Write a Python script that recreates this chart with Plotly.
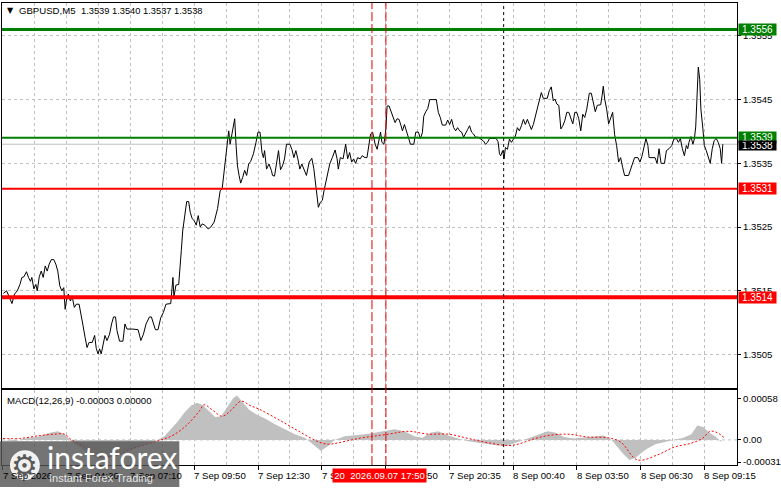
import plotly.graph_objects as go

W, H = 781, 489

# ---------------- data ----------------
price_bar = [0.2,1.8,3.2,4.5,5.8,7.2,8.5,9.5,10.5,11.8,12.8,13.8,14.5,15.5,16.5,17.2,18.2,19.2,20.2,21.2,22.2,23.2,24.3,25.5,26.5,27.5,28.5,29.5,30.5,31.2,31.8,32.8,33.8,34.8,35.8,36.8,38.2,39.2,40.2,41.2,42.2,43.2,44.8,46.0,46.8,47.7,48.5,49.3,50.2,51.2,52.2,53.5,54.5,55.5,56.5,57.2,58.5,60.2,61.2,62.2,65.2,67.8,69.2,70.5,71.8,73.5,74.5,75.5,76.5,77.8,79.2,80.5,81.8,84.2,84.8,85.3,85.8,86.8,88.2,88.8,89.5,90.2,91.2,92.2,93.2,
             94.0,95.0,96.0,97.0,98.0,99.0,100.0,101.3,103.0,104.3,106.0,107.7,109.0,110.0,111.3,112.3,113.3,114.0,114.8,115.7,116.3,117.0,117.7,118.5,119.3,120.3,121.3,122.3,123.3,124.3,125.7,127.0,128.0,129.0,130.0,130.7,131.3,132.3,133.5,134.7,135.3,136.3,137.3,138.3,139.3,140.3,141.3,142.3,144.0,145.0,146.0,147.0,148.0,149.0,150.0,151.0,152.3,153.7,155.0,156.0,156.7,157.7,158.3,159.3,160.3,161.0,162.0,163.0,164.0,165.3,166.7,167.7,168.3,169.3,170.7,172.0,173.0,174.0,175.0,176.0,177.0,178.0,179.3,180.3,181.7,182.7,183.7,
             184.5,185.5,186.2,186.8,187.8,188.5,189.5,190.2,191.2,192.2,192.8,193.8,194.8,195.8,196.8,197.8,198.8,199.8,200.5,201.5,202.8,203.5,204.5,206.2,207.2,208.5,209.5,210.5,211.2,212.2,213.2,214.2,217.5,218.5,219.5,220.5,222.2,223.2,224.2,225.2,226.2,227.2,228.2,229.2,230.2,231.2,232.2,233.2,234.2,235.2,236.2,237.2,238.5,239.8,241.2,242.2,243.2,244.2,247.5,248.5,249.2,249.8,250.8,251.5,252.2,253.2,254.2,255.2,256.2,257.2,258.2,259.2,260.2,261.2,262.2,263.2,264.2,265.2,266.2,267.2,268.2,269.2,270.2,271.2,273.2,274.2,275.2,276.2,
             277.0,278.0,279.0,280.0,281.0,282.0,283.0,284.0,285.0,286.0,287.0,288.0,289.0,290.0,291.0,292.0,293.0,293.7,294.3,295.3,296.3,297.3,298.3,300.0,300.7,301.3,302.0,303.0,304.0,305.0,306.0,307.0,308.0,309.0,310.0,311.0,312.0,314.0,315.0,316.0,317.0,318.7,319.7,320.7,321.7,322.7,323.7,324.3,327.3,328.3,329.3,330.3,332.0,333.0,334.3,335.7,336.7,338.0,339.0,340.0,341.0,342.0,343.0,343.7,344.3,345.3,346.3,347.0,347.7,348.3,349.0,349.7,350.3,351.3,352.0,353.0,354.0,355.0,356.0,357.0,358.0,359.0,360.0,360.7,361.3]
price_close = [1.35146,1.35150,1.35140,1.35130,1.35145,1.35150,1.35160,1.35171,1.35172,1.35180,1.35171,1.35165,1.35171,1.35153,1.35160,1.35150,1.35172,1.35181,1.35171,1.35189,1.35181,1.35192,1.35199,1.35199,1.35192,1.35181,1.35158,1.35150,1.35155,1.35121,1.35134,1.35145,1.35134,1.35140,1.35124,1.35129,1.35129,1.35114,1.35095,1.35077,1.35061,1.35069,1.35069,1.35080,1.35060,1.35051,1.35059,1.35051,1.35067,1.35080,1.35072,1.35082,1.35098,1.35109,1.35109,1.35088,1.35071,1.35071,1.35098,1.35090,1.35090,1.35089,1.35072,1.35082,1.35098,1.35109,1.35109,1.35098,1.35089,1.35089,1.35108,1.35116,1.35129,1.35130,1.35160,1.35171,1.35140,1.35159,1.35160,1.35181,1.35213,1.35244,1.35265,1.35290,1.35290,
               1.35273,1.35263,1.35260,1.35253,1.35268,1.35250,1.35255,1.35253,1.35247,1.35250,1.35258,1.35279,1.35307,1.35310,1.35349,1.35380,1.35401,1.35380,1.35396,1.35411,1.35420,1.35378,1.35346,1.35331,1.35319,1.35328,1.35339,1.35331,1.35349,1.35353,1.35365,1.35383,1.35399,1.35399,1.35367,1.35359,1.35370,1.35341,1.35349,1.35339,1.35331,1.35330,1.35354,1.35370,1.35340,1.35346,1.35357,1.35380,1.35380,1.35372,1.35359,1.35370,1.35357,1.35341,1.35349,1.35342,1.35331,1.35352,1.35358,1.35342,1.35326,1.35302,1.35281,1.35289,1.35292,1.35305,1.35320,1.35336,1.35349,1.35359,1.35371,1.35357,1.35341,1.35359,1.35357,1.35380,1.35357,1.35367,1.35352,1.35357,1.35350,1.35359,1.35357,1.35362,1.35359,1.35359,1.35378,
               1.35396,1.35399,1.35388,1.35380,1.35372,1.35383,1.35399,1.35383,1.35380,1.35404,1.35440,1.35440,1.35432,1.35424,1.35414,1.35420,1.35419,1.35409,1.35401,1.35411,1.35399,1.35391,1.35380,1.35380,1.35399,1.35399,1.35389,1.35398,1.35424,1.35431,1.35436,1.35450,1.35450,1.35430,1.35422,1.35410,1.35410,1.35418,1.35411,1.35419,1.35406,1.35401,1.35406,1.35401,1.35399,1.35391,1.35398,1.35403,1.35409,1.35399,1.35396,1.35391,1.35391,1.35388,1.35385,1.35380,1.35383,1.35389,1.35389,1.35384,1.35365,1.35362,1.35370,1.35357,1.35375,1.35372,1.35388,1.35383,1.35389,1.35393,1.35406,1.35401,1.35409,1.35419,1.35411,1.35419,1.35411,1.35403,1.35411,1.35424,1.35435,1.35451,1.35461,1.35452,1.35452,1.35464,1.35470,1.35448,
               1.35451,1.35443,1.35441,1.35404,1.35409,1.35417,1.35430,1.35430,1.35422,1.35412,1.35430,1.35430,1.35420,1.35401,1.35427,1.35422,1.35435,1.35446,1.35460,1.35460,1.35443,1.35431,1.35441,1.35442,1.35456,1.35471,1.35451,1.35435,1.35412,1.35422,1.35430,1.35395,1.35378,1.35352,1.35359,1.35344,1.35331,1.35331,1.35341,1.35352,1.35359,1.35359,1.35352,1.35361,1.35373,1.35389,1.35378,1.35359,1.35359,1.35350,1.35373,1.35350,1.35350,1.35370,1.35373,1.35378,1.35388,1.35389,1.35383,1.35389,1.35373,1.35362,1.35378,1.35373,1.35383,1.35392,1.35380,1.35388,1.35407,1.35451,1.35501,1.35482,1.35435,1.35404,1.35378,1.35370,1.35359,1.35350,1.35373,1.35386,1.35389,1.35383,1.35373,1.35350,1.35380]

hist_bar = [0,6,11,18.5,23.5,27.5,31,34.5,38.5,43.5,48.5,53.5,58.5,63.5,68.5,73.5,77.5,81,84.5,87.5,91,94.5,97.5,100.5,103.5,106.5,109.5,112.5,115.5,117.5,120.5,123.5,127.5,131.5,136.5,141.5,146.5,151.5,156.5,159.5,162.5,166.5,171.5,176.5,181.5,186.5,191.5,196.5,201.5,206.5,210.5,214.5,218.5,223.5,228.5,233.5,238.5,243.5,248.5,253.5,258.5,263.5,268.5,273.5,277.5,281.5,286.5,291.5,296.5,301.5,305.5,308.5,311.5,314.5,317.5,320.5,323.5,327.5,331.5,336.5,341.5,345.5,348.5,351.5,354.5,357.5,360.5]
hist_val = [0.0,-0.00002,0.00002,0.00005,0.00010,0.00012,0.00008,-0.00003,-0.00010,-0.00020,-0.00027,-0.00025,-0.00020,-0.00015,-0.00010,-0.00005,0.0,0.00005,0.00015,0.00025,0.00038,0.00048,0.00052,0.00048,0.00040,0.00032,0.00033,0.00045,0.00058,0.00062,0.00052,0.00042,0.00035,0.00030,0.00022,0.00015,0.00008,0.00003,-0.00008,-0.00015,-0.00010,0.0,0.00005,0.00006,0.00008,0.00010,0.00012,0.00015,0.00012,0.00005,0.00003,0.00010,0.00012,0.00006,0.00002,-0.00002,-0.00004,-0.00006,-0.00008,-0.00008,-0.00003,0.00003,0.00008,0.00012,0.00010,0.00004,0.00002,0.00003,0.00005,0.00006,0.0,-0.00010,-0.00020,-0.00028,-0.00025,-0.00018,-0.00012,-0.00006,-0.00003,0.0,0.00003,0.00008,0.00020,0.00018,0.00010,0.00005,-0.00003]

signal_bar = [0,8.5,18.5,26,31,33.5,41,47,55,65,77,85,92,98.5,101,105,110,114,119.5,124,128.5,138.5,148.5,158.5,163.5,168.5,178.5,193.5,203.5,213.5,223.5,233.5,243.5,253.5,258.5,266,273.5,283.5,293.5,303.5,310,318.5,328.5,337,345,351,355,358.5,362]
signal_val = [0.00002,0.00002,0.00006,0.00008,0.00008,0.00002,-0.00010,-0.00022,-0.00023,-0.00012,-0.00002,0.00006,0.00020,0.00040,0.00049,0.00042,0.00033,0.00040,0.00054,0.00048,0.00043,0.00028,0.00012,-0.00003,-0.00006,-0.00004,0.00002,0.00008,0.00012,0.00008,0.00008,0.00002,-0.00004,-0.00008,-0.00006,0.00001,0.00006,0.00008,0.00004,0.00003,-0.00003,-0.00028,-0.00021,-0.00010,-0.00005,0.00002,0.00012,0.00010,0.00003]

time_tick_bars = [0, 32, 64, 96, 128, 160, 192, 224, 256, 288, 320, 352]
time_tick_labels = ["7 Sep 2026", "7 Sep 04:20", "7 Sep 07:10", "7 Sep 09:50", "7 Sep 12:30",
                    "7 Sep 15:10", "7 Sep 17:50", "7 Sep 20:35", "8 Sep 00:40", "8 Sep 03:50",
                    "8 Sep 06:30", "8 Sep 09:15"]
price_ticks = [1.3505, 1.3515, 1.3525, 1.3535, 1.3545, 1.3555]
macd_ticks = [0.00058, 0.0, -0.00031]
macd_tick_labels = ["0.00058", "0.00", "-0.00031"]

levels = [1.3556, 1.3539, 1.3531, 1.3514]
level_colors = ["#008000", "#008000", "#ff0000", "#ff0000"]
level_widths = [3, 2, 2, 4]
bid_price = 1.3538
cursor_bars = [185.2, 192.2]
cursor_label = "20  2026.09.07 17:50"
separator_bar = 251.3
title_symbol = "GBPUSD,M5"
title_ohlc = "1.3539 1.3540 1.3537 1.3538"
macd_title = "MACD(12,26,9) -0.00003 0.00000"

# ---------------- layout helpers ----------------
def px_x(p):
    return p / W

def px_y(p):
    return 1 - p / H

FONT = "Liberation Sans, Arial, sans-serif"
FS = 9.6
GRID = "#c0c0c0"
x_range = [-0.5, 368.5]
xdom = [px_x(2), px_x(740)]
main_dom = [px_y(390), px_y(3)]
macd_dom = [px_y(467), px_y(392)]

fig = go.Figure()

fig.add_trace(go.Scatter(x=hist_bar, y=hist_val, mode="lines", line=dict(width=0, color="#c0c0c0"),
                         fill="tozeroy", fillcolor="#c0c0c0", xaxis="x2", yaxis="y2",
                         showlegend=False, hoverinfo="skip"))
fig.add_trace(go.Scatter(x=signal_bar, y=signal_val, mode="lines",
                         line=dict(width=1, color="#ff0000", dash="2px,2px", shape="spline"),
                         xaxis="x2", yaxis="y2", showlegend=False))
fig.add_trace(go.Scatter(x=price_bar, y=price_close, mode="lines",
                         line=dict(width=1, color="#000000"), showlegend=False))

shapes = []
shapes.append(dict(type="line", xref="x", yref="y", x0=x_range[0], x1=x_range[1], y0=bid_price, y1=bid_price,
                   line=dict(color="#c0c0c0", width=1), layer="below"))
for lv, c, w in zip(levels, level_colors, level_widths):
    shapes.append(dict(type="line", xref="x", yref="y", x0=x_range[0], x1=x_range[1], y0=lv, y1=lv,
                       line=dict(color=c, width=w)))
for cb in cursor_bars:
    shapes.append(dict(type="line", xref="x", yref="paper", x0=cb, x1=cb, y0=macd_dom[0], y1=main_dom[1],
                       line=dict(color="#e00000", width=1, dash="9px,3px")))
shapes.append(dict(type="line", xref="x", yref="paper", x0=separator_bar, x1=separator_bar,
                   y0=macd_dom[0], y1=main_dom[1], line=dict(color="#000000", width=1, dash="3px,3px")))
shapes.append(dict(type="line", xref="x2", yref="y2", x0=x_range[0], x1=x_range[1], y0=0, y1=0,
                   line=dict(color=GRID, width=1, dash="3px,3px"), layer="below"))
# logo box
shapes.append(dict(type="rect", xref="paper", yref="paper", x0=0, x1=px_x(180), y0=0, y1=px_y(443),
                   fillcolor="rgba(85,85,85,0.82)", line=dict(width=0)))
shapes.append(dict(type="circle", xref="paper", yref="paper", x0=px_x(10), x1=px_x(40), y0=px_y(482), y1=px_y(452),
                   fillcolor="rgba(255,255,255,0.9)", line=dict(width=0)))

annotations = []
for lv, c in zip(levels, level_colors):
    annotations.append(dict(xref="paper", yref="y", x=px_x(741), y=lv, xanchor="left", yanchor="middle",
                            text=f"{lv:.4f}", showarrow=False, bgcolor=c, width=35, height=9, borderpad=1,
                            font=dict(family=FONT, size=10, color="white"), align="center"))
annotations.append(dict(xref="paper", yref="y", x=px_x(741), y=bid_price, xanchor="left", yanchor="middle",
                        yshift=-1.5, text=f"{bid_price:.4f}", showarrow=False, bgcolor="#000000", width=35,
                        height=7, borderpad=1, font=dict(family=FONT, size=10, color="white"), align="center"))
for tb, tl in zip(time_tick_bars, time_tick_labels):
    annotations.append(dict(xref="x2", yref="paper", x=tb, y=px_y(477), xanchor="left", yanchor="middle",
                            xshift=-2, text=tl, showarrow=False, font=dict(family=FONT, size=FS, color="black")))
annotations.append(dict(xref="paper", yref="paper", x=px_x(333), y=px_y(477), xanchor="left", yanchor="middle",
                        text=cursor_label, showarrow=False, bgcolor="#ff0000", width=91, height=11, borderpad=1,
                        font=dict(family=FONT, size=FS, color="white")))
annotations.append(dict(xref="paper", yref="paper", x=px_x(5), y=px_y(11), xanchor="left", yanchor="middle",
                        text="▼", showarrow=False, font=dict(family="DejaVu Sans", size=8, color="black")))
annotations.append(dict(xref="paper", yref="paper", x=px_x(17), y=px_y(11), xanchor="left", yanchor="middle",
                        text=title_symbol, showarrow=False, font=dict(family=FONT, size=9.6, color="black")))
annotations.append(dict(xref="paper", yref="paper", x=px_x(79), y=px_y(11), xanchor="left", yanchor="middle",
                        text=title_ohlc, showarrow=False, font=dict(family=FONT, size=9.3, color="black")))
annotations.append(dict(xref="paper", yref="paper", x=px_x(5), y=px_y(402), xanchor="left", yanchor="middle",
                        text=macd_title, showarrow=False, font=dict(family=FONT, size=FS, color="black")))
annotations.append(dict(xref="paper", yref="paper", x=px_x(45), y=px_y(459), xanchor="left", yanchor="middle",
                        text="instaforex", showarrow=False, font=dict(family="Lato", size=30, color="white")))
annotations.append(dict(xref="paper", yref="paper", x=px_x(47), y=px_y(480), xanchor="left", yanchor="middle",
                        text="Instant Forex Trading", showarrow=False,
                        font=dict(family=FONT, size=11, color="rgba(255,255,255,0.85)")))
annotations.append(dict(xref="paper", yref="paper", x=px_x(25), y=px_y(467), xanchor="center", yanchor="middle",
                        text="⚙", showarrow=False, font=dict(family="DejaVu Sans", size=30, color="#5a5a5a")))

axis_common = dict(range=x_range, domain=xdom, showline=True, linecolor="black", linewidth=1, mirror=True,
                   zeroline=False, fixedrange=True)

fig.update_layout(
    width=W, height=H, margin=dict(l=0, r=0, t=0, b=0, pad=0),
    paper_bgcolor="white", plot_bgcolor="white", showlegend=False,
    xaxis=dict(**axis_common, anchor="y", showticklabels=False, ticks="",
               showgrid=True, gridcolor=GRID, griddash="3px,3px", gridwidth=1, tick0=0, dtick=16),
    yaxis=dict(domain=main_dom, range=[1.349969, 1.356016], side="right", anchor="x",
               tickmode="array", tickvals=price_ticks, ticktext=[f"{v:.4f}" for v in price_ticks],
               ticks="outside", ticklen=3, tickcolor="black", showline=True, linecolor="black", mirror=True,
               showgrid=True, gridcolor=GRID, griddash="3px,3px", gridwidth=1, zeroline=False,
               tickfont=dict(family=FONT, size=FS, color="black")),
    xaxis2=dict(**axis_common, anchor="y2", showticklabels=False, ticks="outside", ticklen=4, tickcolor="black",
                tickmode="array", tickvals=time_tick_bars,
                showgrid=True, gridcolor=GRID, griddash="3px,3px", gridwidth=1,
                minor=dict(tick0=0, dtick=16, showgrid=True, gridcolor=GRID, griddash="3px,3px", ticks="")),
    yaxis2=dict(domain=macd_dom, range=[-0.000352, 0.000691], side="right", anchor="x2",
                tickmode="array", tickvals=macd_ticks, ticktext=macd_tick_labels,
                ticks="outside", ticklen=3, tickcolor="black", showline=True, linecolor="black", mirror=True,
                showgrid=False, zeroline=False, tickfont=dict(family=FONT, size=FS, color="black")),
    shapes=shapes, annotations=annotations,
)

fig.write_html("out.html", config={"displayModeBar": False},
               post_script="document.body.style.margin='0px';document.body.style.overflow='hidden';")
